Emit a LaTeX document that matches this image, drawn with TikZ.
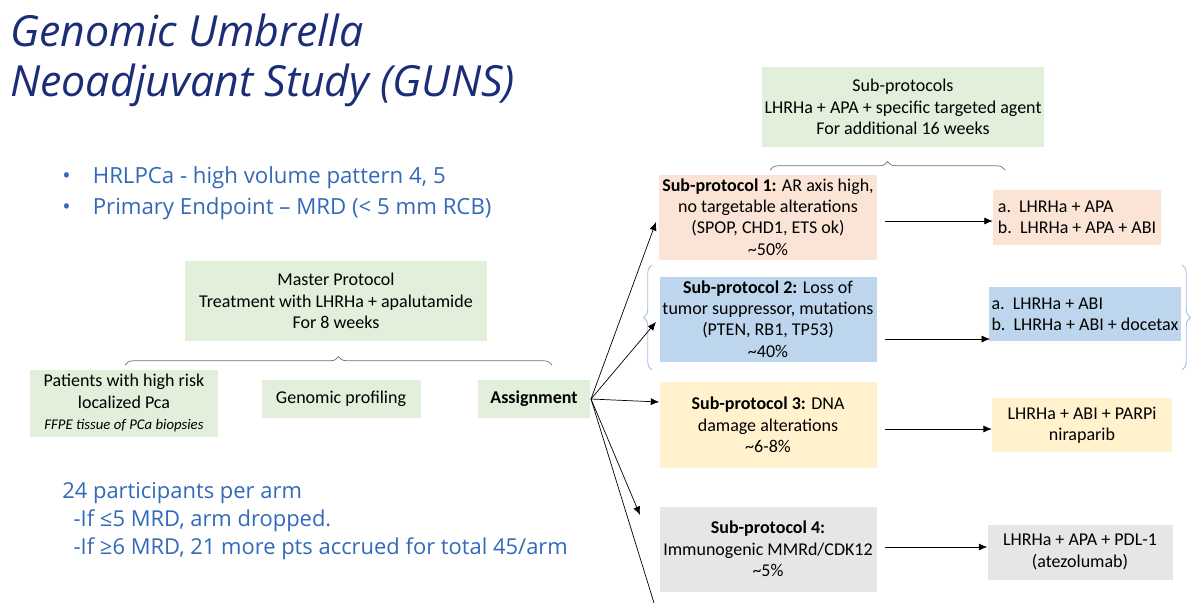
\documentclass[tikz,border=0pt]{standalone}
\usepackage{fontspec}
\setmainfont{Carlito}
\newfontfamily\slidefont{Open Sans}
\usetikzlibrary{decorations.pathreplacing,arrows.meta}
\definecolor{titleblue}{RGB}{28,45,120}
\definecolor{textblue}{RGB}{50,105,185}
\definecolor{boxgreen}{RGB}{226,239,218}
\definecolor{boxpeach}{RGB}{251,228,213}
\definecolor{boxblue}{RGB}{189,214,238}
\definecolor{boxyellow}{RGB}{255,242,204}
\definecolor{boxgray}{RGB}{230,230,230}
\definecolor{bracegray}{RGB}{110,110,110}
\definecolor{braceblue}{RGB}{160,190,225}
\begin{document}
\begin{tikzpicture}[x=0.025cm, y=-0.025cm, font=\fontsize{12.8}{15.2}\selectfont,
    box/.style={align=center, inner sep=2pt},
    link/.style={-{Latex[length=6pt,width=5pt]}, line width=0.5pt},
    grp/.style={decorate, decoration={brace, amplitude=6pt}, bracegray, line width=0.5pt}]
  \useasboundingbox (0,0) rectangle (1200,613);
  % the title and the notes
  \node (title) [anchor=north west, align=left, text=titleblue, inner sep=0pt,
    font=\slidefont\itshape\fontsize{30.5}{35}\selectfont] at (10,14)
    {Genomic Umbrella\\Neoadjuvant Study (GUNS)};
  \node (notes) [anchor=west, align=left, text=textblue, inner sep=0pt,
    font=\slidefont\fontsize{15.8}{22}\selectfont] at (62,193)
    {\textbullet\hspace{1em}HRLPCa - high volume pattern 4, 5\\
     \textbullet\hspace{1em}Primary Endpoint – MRD (< 5 mm RCB)};
  \node (arms) [anchor=west, align=left, text=textblue, inner sep=0pt,
    font=\slidefont\fontsize{15.6}{20}\selectfont] at (62,521)
    {24 participants per arm\\
     \ \ -If ≤5 MRD, arm dropped.\\
     \ \ -If ≥6 MRD, 21 more pts accrued for total 45/arm};
  % the master protocol
  \node (master) [box, fill=boxgreen, minimum width=302*0.025cm, minimum height=80*0.025cm] at (336,301)
    {Master Protocol\\Treatment with LHRHa + apalutamide\\For 8 weeks};
  \node (patients) [box, fill=boxgreen, minimum width=188*0.025cm, minimum height=67*0.025cm] at (124,403)
    {Patients with high risk\\localized Pca\\{\itshape\fontsize{10.5}{13}\selectfont FFPE tissue of PCa biopsies}};
  \node (profiling) [box, fill=boxgreen, minimum width=159*0.025cm, minimum height=38*0.025cm] at (341,399)
    {Genomic profiling};
  \node (assign) [box, fill=boxgreen, minimum width=112*0.025cm, minimum height=38*0.025cm] at (534,399)
    {\bfseries Assignment};
  \draw[grp] (125,365) -- (552,365);
  % the sub-protocols
  \node (subs) [box, fill=boxgreen, minimum width=273*0.025cm, minimum height=80*0.025cm] at (903,107)
    {Sub-protocols\\LHRHa + APA + specific targeted agent\\For additional 16 weeks};
  \draw[grp] (770,170) -- (1005,170);
  \node (sp1) [box, fill=boxpeach, minimum width=217*0.025cm, minimum height=85*0.025cm] at (768,217)
    {\textbf{Sub-protocol 1:} AR axis high,\\no targetable alterations\\(SPOP, CHD1, ETS ok)\\\textasciitilde50\%};
  \node (sp2) [box, fill=boxblue, minimum width=217*0.025cm, minimum height=85*0.025cm] at (768,319)
    {\textbf{Sub-protocol 2:} Loss of\\tumor suppressor, mutations\\(PTEN, RB1, TP53)\\\textasciitilde40\%};
  \node (sp3) [box, fill=boxyellow, minimum width=217*0.025cm, minimum height=86*0.025cm] at (768,425)
    {\textbf{Sub-protocol 3:} DNA\\damage alterations\\\textasciitilde6-8\%};
  \node (sp4) [box, fill=boxgray, minimum width=217*0.025cm, minimum height=85*0.025cm] at (768,549)
    {\textbf{Sub-protocol 4:}\\Immunogenic MMRd/CDK12\\\textasciitilde5\%};
  % the treatments
  \node (rx1) [box, fill=boxpeach, align=left, minimum width=168*0.025cm, minimum height=55*0.025cm] at (1077,217)
    {a.\ \ LHRHa + APA\\b.\ \ LHRHa + APA + ABI};
  \node (rx2) [box, fill=boxblue, align=left, minimum width=180*0.025cm, minimum height=54*0.025cm] at (1085,314)
    {a.\ \ LHRHa + ABI\\b.\ \ LHRHa + ABI + docetax};
  \node (rx3) [box, fill=boxyellow, minimum width=180*0.025cm, minimum height=54*0.025cm] at (1082,425)
    {LHRHa + ABI + PARPi\\niraparib};
  \node (rx4) [box, fill=boxgray, minimum width=185*0.025cm, minimum height=55*0.025cm] at (1080,552)
    {LHRHa + APA + PDL-1\\(atezolumab)};
  \draw[decorate, decoration={brace, amplitude=6pt}, braceblue, line width=0.6pt] (652,370) -- (652,265);
  \draw[decorate, decoration={brace, amplitude=6pt}, braceblue, line width=0.6pt] (1182,265) -- (1182,370);
  % the arrows
  \coordinate (fan) at (591,399);
  \coordinate (tail) at (654,603);
  \draw[link] (fan) -- (656,222);
  \draw[link] (fan) -- (656,322);
  \draw[link] (fan) -- (sp3.west |- 0,402);
  \draw[link] (fan) -- (640,515);
  \draw[line width=0.5pt] (fan) -- (tail);
  \draw[link] (885,221) -- (rx1.west |- 0,221);
  \draw[link] (885,339) -- (990,339);
  \draw[link] (885,429) -- (rx3.west |- 0,429);
  \draw[link] (885,547) -- (rx4.west |- 0,547);
\end{tikzpicture}
\end{document}
